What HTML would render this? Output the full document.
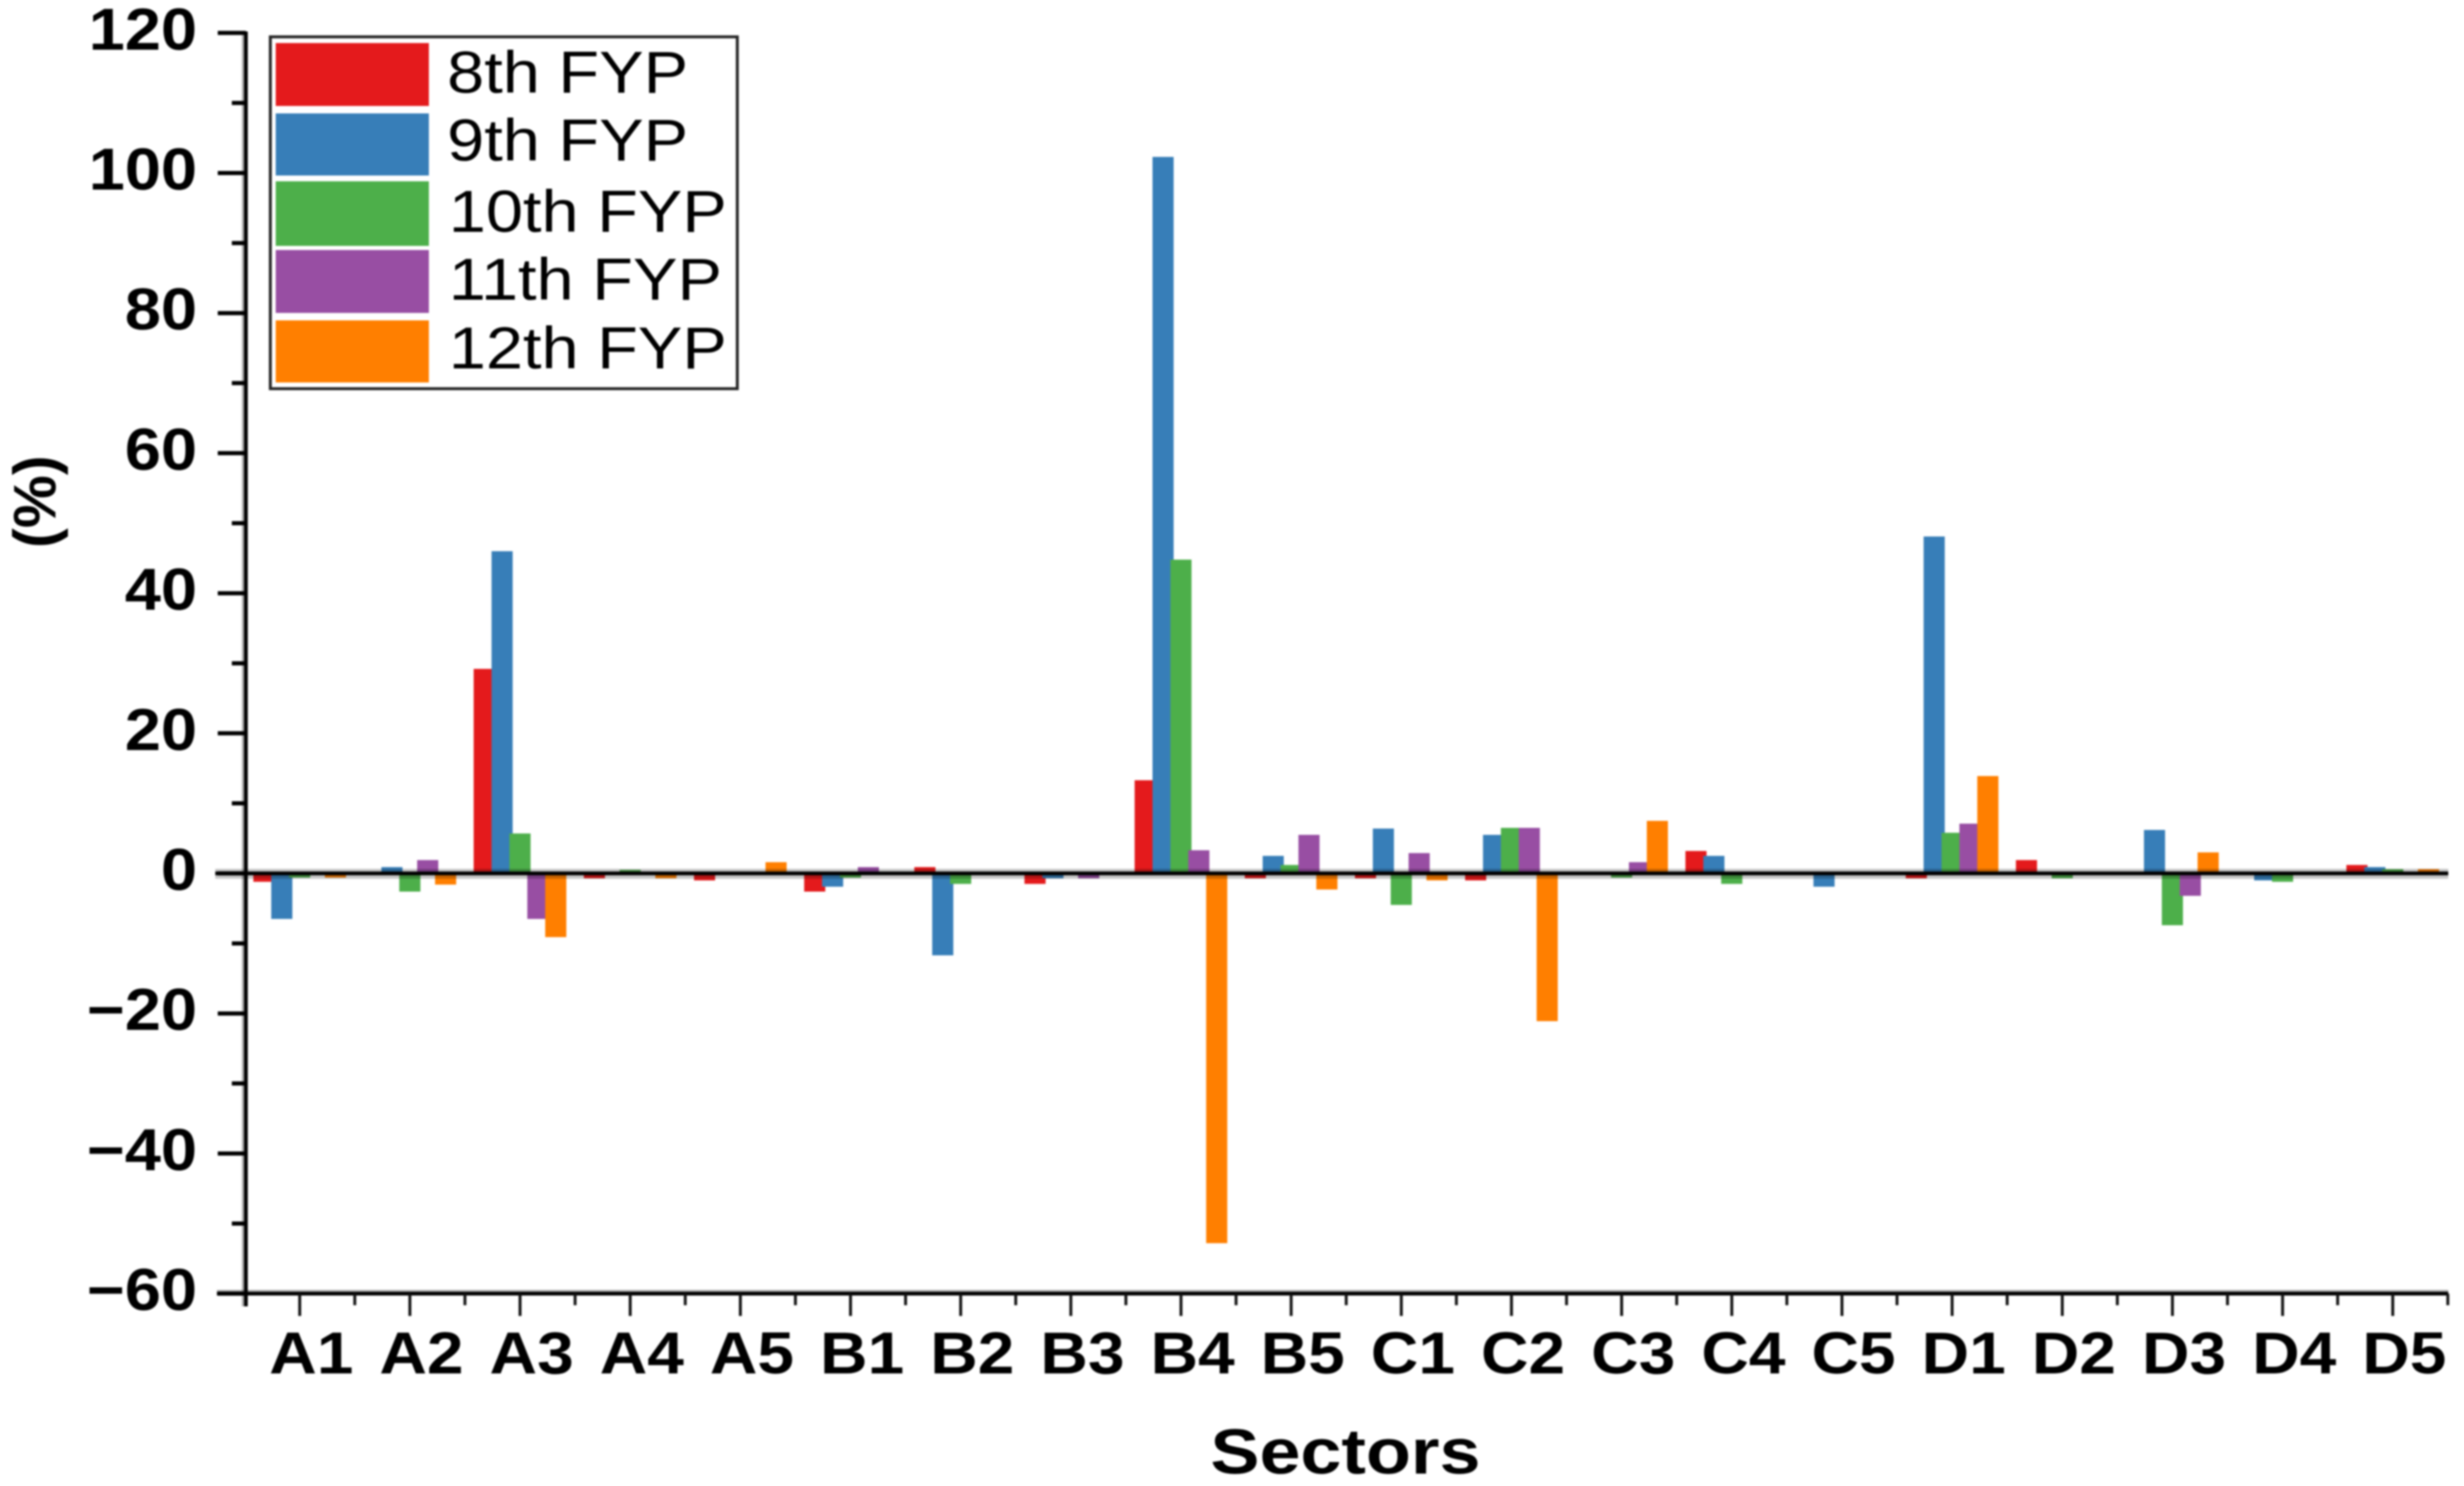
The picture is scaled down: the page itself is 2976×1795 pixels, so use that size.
<!DOCTYPE html>
<html lang="en">
<head>
<meta charset="utf-8">
<title>FYP sector bar chart</title>
<style>
html,body{margin:0;padding:0;background:#fff;}
body{width:2976px;height:1795px;overflow:hidden;}
svg{display:block;filter:blur(1.1px);}
text{fill:#000;}
.b{font-family:"Liberation Sans",Arial,sans-serif;font-weight:bold;}
.r{font-family:"Liberation Sans",Arial,sans-serif;font-weight:normal;}
</style>
</head>
<body>
<svg id="chart" xmlns="http://www.w3.org/2000/svg" width="2976" height="1795" viewBox="0 0 2976 1795">
  <rect x="0" y="0" width="2976" height="1795" fill="#fff"/>
  <g id="bars"></g>
  <g id="axes"></g>
  <g>
    <rect x="326.5" y="44.5" width="564" height="425" fill="#fff" stroke="#222" stroke-width="3.5"/>
    <rect x="333" y="52" width="185" height="76" fill="#E41A1C"/>
    <rect x="333" y="137" width="185" height="75" fill="#377EB8"/>
    <rect x="333" y="219" width="185" height="78" fill="#4DAF4A"/>
    <rect x="333" y="302" width="185" height="76" fill="#984EA3"/>
    <rect x="333" y="387" width="185" height="75" fill="#FF7F00"/>
    <text class="r" font-size="71" transform="translate(540,112) scale(1.135,1)">8th FYP</text>
    <text class="r" font-size="71" transform="translate(540,194) scale(1.135,1)">9th FYP</text>
    <text class="r" font-size="71" transform="translate(542,280) scale(1.135,1)">10th FYP</text>
    <text class="r" font-size="71" transform="translate(542,362) scale(1.135,1)">11th FYP</text>
    <text class="r" font-size="71" transform="translate(542,445) scale(1.135,1)">12th FYP</text>
  </g>
  <text class="b" font-size="77" text-anchor="middle" transform="translate(1625,1780) scale(1.155,1)">Sectors</text>
  <text class="b" font-size="72" text-anchor="middle" transform="translate(67,606) rotate(-90)">(%)</text>
</svg>
<script>
var categories = ["A1","A2","A3","A4","A5","B1","B2","B3","B4","B5","C1","C2","C3","C4","C5","D1","D2","D3","D4","D5"];
var seriesNames = ["8th FYP","9th FYP","10th FYP","11th FYP","12th FYP"];
var seriesColors = ["#E41A1C","#377EB8","#4DAF4A","#984EA3","#FF7F00"];
var fyp8  = [-1.2,0,29.2,-0.7,-1,-2.6,0.9,-1.5,13.3,-0.7,-0.7,-1,0,3.2,0,-0.7,1.9,0,0,1.2];
var fyp9  = [-6.5,0.9,46,0,0,-1.9,-11.7,-0.7,102.3,2.5,6.4,5.5,0,2.5,-1.9,48.1,0,6.2,-1,0.9];
var fyp10 = [-0.6,-2.6,5.7,0.5,0,-0.6,-1.5,0,44.8,1.2,-4.5,6.5,-0.6,-1.5,0,5.8,-0.7,-7.4,-1.2,0.6];
var fyp11 = [0,1.9,-6.5,0,0,0.9,0,-0.7,3.3,5.5,2.9,6.5,1.6,0,0,7.1,0,-3.2,0,0];
var fyp12 = [-0.6,-1.6,-9.1,-0.7,1.6,0,0,0,-52.8,-2.3,-1,-21.1,7.5,0,0,13.9,0,3,0,0.6];
var yMajorTicks = [120,100,80,60,40,20,0,-20,-40,-60];
var yMinorTicks = [110,90,70,50,30,10,-10,-30,-50];
var yTickLabels = ["120","100","80","60","40","20","0","\u221220","\u221240","\u221260"];

var allSeries = [fyp8,fyp9,fyp10,fyp11,fyp12];
var NS = "http://www.w3.org/2000/svg";
var barsG = document.getElementById("bars");
var axesG = document.getElementById("axes");

function yScale(v){ return 1055 - v * 8.46; }
function xScale(i){ return 362 + i * 133.05; }

function line(x1,y1,x2,y2,w,color){
  var l = document.createElementNS(NS,"line");
  l.setAttribute("x1",x1);
  l.setAttribute("y1",y1);
  l.setAttribute("x2",x2);
  l.setAttribute("y2",y2);
  l.setAttribute("stroke",color || "#000");
  l.setAttribute("stroke-width",w);
  axesG.appendChild(l);
  return l;
}

// bars
allSeries.forEach(function(values,s){
  values.forEach(function(v,i){
    if(v === 0) return;
    var r = document.createElementNS(NS,"rect");
    var left = xScale(i) - 56 + s * 21.6;
    var top = v > 0 ? yScale(v) : yScale(0);
    var h = Math.abs(yScale(v) - yScale(0));
    r.setAttribute("x",left);
    r.setAttribute("y",top);
    r.setAttribute("width",25.5);
    r.setAttribute("height",h);
    r.setAttribute("fill",seriesColors[s]);
    
    
    barsG.appendChild(r);
  });
});

// zero baseline with soft halo
var zeroHalo = line(260,yScale(0)+0.5,2957,yScale(0)+0.5,12,"rgba(0,0,0,0.22)");


var zeroLine = line(260,yScale(0),2957,yScale(0),4.5,"#000");



// y axis
var yAxisHalo = line(294,40,294,1578,4,"rgba(0,0,0,0.3)");


var yAxis = line(297,38,297,1578,4.5,"#000");



yMajorTicks.forEach(function(v,k){
  var t = line(263,yScale(v),297,yScale(v),5,"#000");
  
  
  var tx = document.createElementNS(NS,"text");
  tx.setAttribute("class","b");
  tx.setAttribute("font-size","71");
  tx.setAttribute("text-anchor","end");
  tx.setAttribute("transform","translate(238," + (yScale(v)+20) + ") scale(1.105,1)");
  tx.textContent = yTickLabels[k];
  
  
  axesG.appendChild(tx);
});
yMinorTicks.forEach(function(v){
  var t = line(280,yScale(v),297,yScale(v),5,"#000");
  
  
});

// x axis
var xAxisHalo = line(262,1560.5,2957,1560.5,5,"rgba(0,0,0,0.3)");


var xAxis = line(262,yScale(-60),2957,yScale(-60),4.5,"#000");



categories.forEach(function(c,i){
  var t = line(xScale(i),yScale(-60),xScale(i),yScale(-60)+27,3.5,"#111");
  
  
  var m = line(xScale(i)+66.5,yScale(-60),xScale(i)+66.5,yScale(-60)+14,3.5,"#111");
  
  
  var tx = document.createElementNS(NS,"text");
  tx.setAttribute("class","b");
  tx.setAttribute("font-size","71");
  tx.setAttribute("text-anchor","middle");
  tx.setAttribute("transform","translate(" + (xScale(i)+14) + ",1659) scale(1.12,1)");
  tx.textContent = c;
  
  
  axesG.appendChild(tx);
});
</script>
</body>
</html>
